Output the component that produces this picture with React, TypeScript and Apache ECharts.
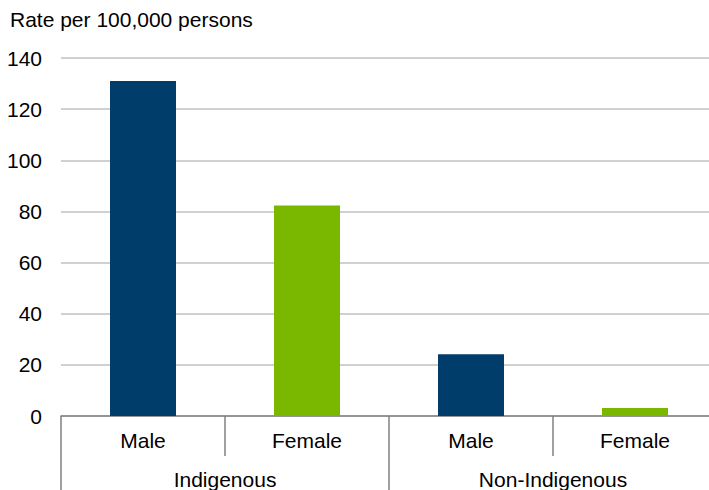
import React, { useEffect, useRef } from "react";
import * as echarts from "echarts";

const categories = ["Male", "Female", "Male", "Female"];
const groups = ["Indigenous", "Non-Indigenous"];
const values = [131, 82.3, 24.1, 3.1];
const barColors = ["#003D6A", "#7AB800", "#003D6A", "#7AB800"];
const yTicks = { min: 0, max: 140, interval: 20 };
const yTitle = "Rate per 100,000 persons";

export default function App() {
  const ref = useRef<HTMLDivElement>(null);
  useEffect(() => {
    if (!ref.current) return;
    const chart = echarts.init(ref.current, null, { renderer: "svg" });
    const font = "'Liberation Sans', Arial, sans-serif";
    chart.setOption({
      animation: false,
      textStyle: { fontFamily: font },
      grid: { left: 61, right: 3, top: 58, bottom: 73, containLabel: false },
      graphic: [
        {
          type: "text",
          left: 10,
          top: 9,
          style: { text: yTitle, fontSize: 21, fill: "#000", fontFamily: font },
        },
      ],
      xAxis: [
        {
          type: "category",
          data: categories,
          axisLine: { show: true, lineStyle: { color: "#808080", width: 1.5 } },
          axisTick: { show: true, length: 40, interval: 0, lineStyle: { color: "#808080", width: 1.5 } },
          axisLabel: { interval: 0, fontSize: 21, color: "#000", margin: 14, fontFamily: font },
        },
        {
          type: "category",
          data: groups,
          position: "bottom",
          offset: 40,
          axisLine: { show: false },
          axisTick: { show: true, length: 40, interval: 0, lineStyle: { color: "#808080", width: 1.5 } },
          axisLabel: { interval: 0, fontSize: 21, color: "#000", margin: 13, fontFamily: font },
        },
      ],
      yAxis: {
        type: "value",
        min: yTicks.min,
        max: yTicks.max,
        interval: yTicks.interval,
        axisLine: { show: false },
        axisTick: { show: false },
        axisLabel: { fontSize: 21, color: "#000", margin: 19, fontFamily: font },
        splitLine: { lineStyle: { color: "#C0C0C0", width: 1.5 } },
      },
      series: [
        {
          type: "bar",
          xAxisIndex: 0,
          barWidth: 66,
          data: values.map((v, i) => ({ value: v, itemStyle: { color: barColors[i] } })),
        },
      ],
    });
    return () => chart.dispose();
  }, []);
  return (
    <div style={{ position: "fixed", left: 0, top: 0, width: 709, height: 490, overflow: "hidden", background: "#fff" }}>
      <div ref={ref} style={{ width: 720, height: 490, position: "absolute", left: 0, top: 0 }} />
    </div>
  );
}
